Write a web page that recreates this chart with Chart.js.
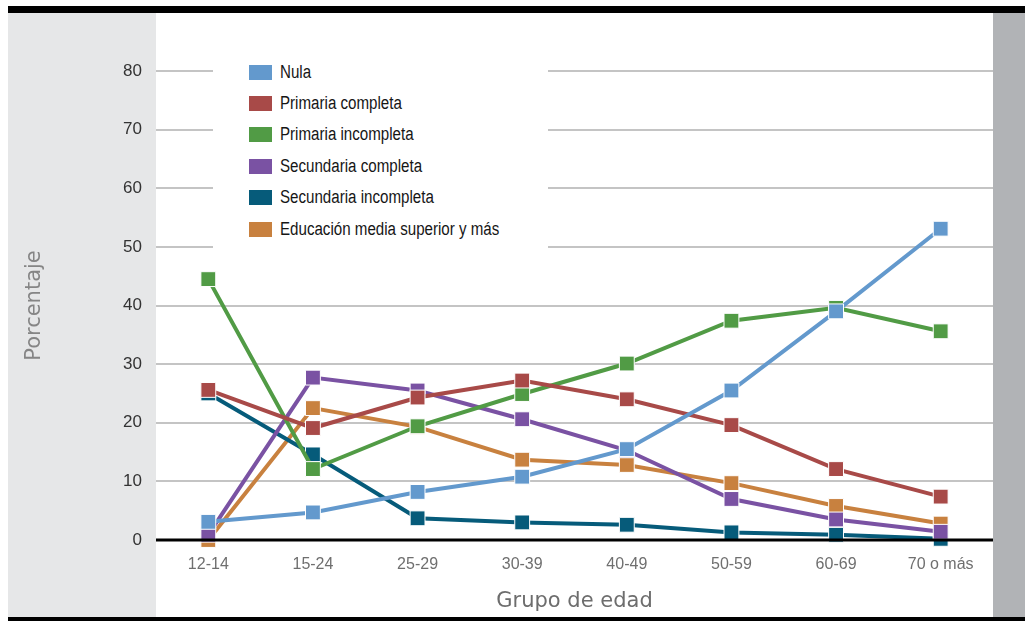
<!DOCTYPE html>
<html lang="es">
<head>
<meta charset="utf-8">
<title>Porcentaje por grupo de edad</title>
<script src="https://cdn.jsdelivr.net/npm/chart.js@4.4.0/dist/chart.umd.min.js"></script>
<style>
    html, body { margin: 0; padding: 0; background: #fff; }
    body { width: 1025px; height: 621px; position: relative; overflow: hidden; }
    .bar-top { position: absolute; left: 8px; top: 6px; width: 1017px; height: 7px; background: #000; }
    .bar-bottom { position: absolute; left: 8px; top: 617px; width: 1017px; height: 4px; background: #000; }
    .panel-left { position: absolute; left: 8px; top: 13px; width: 148px; height: 604px; background: #e6e7e8; }
    .panel-right { position: absolute; left: 993px; top: 13px; width: 32px; height: 604px; background: #b1b3b6; }
    .chart-wrap { position: absolute; left: 8px; top: 13px; width: 1017px; height: 604px; }
    #legend {
        position: absolute; left: 213px; top: 55px; width: 335px; height: 195px;
        background: #fff;
    }
    #legend .item {
        position: absolute; left: 36px; height: 20px;
        display: flex; align-items: center;
        font-family: 'Liberation Sans', Arial, sans-serif;
        font-size: 18px; color: #161616; white-space: nowrap;
    }
    #legend .swatch { width: 23px; height: 15px; margin-right: 8px; box-sizing: border-box; flex: none; }
    #legend .txt { display: inline-block; transform: scaleX(0.84); transform-origin: 0 50%; }
</style>
</head>
<body>
<div class="bar-top"></div>
<div class="panel-left"></div>
<div class="panel-right"></div>
<div class="chart-wrap"><canvas id="chart" width="1017" height="604"></canvas></div>
<div id="legend"></div>
<div class="bar-bottom"></div>

<script>
    const ageGroups = ['12-14', '15-24', '25-29', '30-39', '40-49', '50-59', '60-69', '70 o más'];
    const yTicks = [0, 10, 20, 30, 40, 50, 60, 70, 80];

    const seriesNames = [
        'Nula',
        'Primaria completa',
        'Primaria incompleta',
        'Secundaria completa',
        'Secundaria incompleta',
        'Educación media superior y más'
    ];
    const seriesColors = ['#6399cd', '#a84a48', '#519b45', '#7a52a3', '#065b7a', '#c8813f'];

    const nula = [3.1, 4.7, 8.2, 10.8, 15.5, 25.5, 39.0, 53.1];
    const primariaCompleta = [25.6, 19.1, 24.3, 27.2, 24.0, 19.6, 12.1, 7.4];
    const primariaIncompleta = [44.5, 12.1, 19.4, 24.9, 30.1, 37.4, 39.6, 35.6];
    const secundariaCompleta = [0.9, 27.7, 25.5, 20.6, 15.3, 7.0, 3.5, 1.4];
    const secundariaIncompleta = [25.0, 14.6, 3.7, 3.0, 2.6, 1.3, 0.9, 0.2];
    const mediaSuperior = [0.0, 22.5, 19.3, 13.7, 12.8, 9.7, 5.8, 2.8];

    const seriesValues = [nula, primariaCompleta, primariaIncompleta, secundariaCompleta, secundariaIncompleta, mediaSuperior];

    // legend (html, sits over the gridlines like in the original)
    const legendEl = document.getElementById('legend');
    seriesNames.forEach((name, i) => {
        const item = document.createElement('div');
        item.className = 'item';
        item.style.top = (7 + i * 31.4) + 'px';
        item.innerHTML = `<span class="swatch" style="background:${seriesColors[i]}"></span><span class="txt">${name}</span>`;
        legendEl.appendChild(item);
    });

    // black zero line drawn over the markers
    const zeroLine = {
        id: 'zeroLine',
        afterDatasetsDraw(chart) {
            const { ctx, chartArea, scales } = chart;
            const y = scales.y.getPixelForValue(0);
            ctx.save();
            ctx.strokeStyle = '#000';
            ctx.lineWidth = 3;
            ctx.beginPath();
            ctx.moveTo(chartArea.left, y);
            ctx.lineTo(chartArea.right, y);
            ctx.stroke();
            ctx.restore();
        }
    };

    Chart.defaults.font.family = "'Liberation Sans', Arial, sans-serif";

    new Chart(document.getElementById('chart').getContext('2d'), {
        type: 'line',
        data: {
            labels: ageGroups,
            datasets: seriesNames.map((name, i) => ({
                label: name,
                data: seriesValues[i],
                borderColor: seriesColors[i],
                backgroundColor: seriesColors[i],
                borderWidth: 4,
                pointStyle: 'rect',
                pointRadius: 10.5,
                pointHoverRadius: 10.5,
                pointBorderColor: '#ffffff',
                pointBorderWidth: 1,
                pointBackgroundColor: seriesColors[i],
                tension: 0,
                clip: false
            }))
        },
        options: {
            responsive: false,
            animation: false,
            devicePixelRatio: 1,
            layout: { padding: { top: 58, right: 32, bottom: 0, left: 0 } },
            plugins: {
                legend: { display: false },
                tooltip: { enabled: false }
            },
            scales: {
                x: {
                    offset: true,
                    grid: { display: false, drawTicks: false },
                    border: { display: false },
                    ticks: {
                        padding: 15,
                        color: '#6f6f6f',
                        font: { size: 16 },
                        maxRotation: 0,
                        autoSkip: false
                    },
                    title: {
                        display: true,
                        text: 'Grupo de edad',
                        color: '#6d6d6d',
                        font: { family: "'DejaVu Sans', sans-serif", size: 21 },
                        padding: { top: 0, bottom: 3 }
                    },
                    afterFit: s => { s.height = 77; }
                },
                y: {
                    min: yTicks[0],
                    max: yTicks[yTicks.length - 1],
                    afterBuildTicks: s => { s.ticks = yTicks.map(v => ({ value: v })); },
                    grid: { color: '#c4c4c4', lineWidth: 2, drawTicks: false },
                    border: { display: false },
                    ticks: {
                        padding: 14,
                        color: '#333333',
                        font: { size: 17 }
                    },
                    title: {
                        display: true,
                        text: 'Porcentaje',
                        color: '#858585',
                        font: { family: "'DejaVu Sans', sans-serif", size: 21 },
                        padding: { top: 14, bottom: 0 }
                    },
                    afterFit: s => { s.width = 148; }
                }
            }
        },
        plugins: [zeroLine]
    });
</script>
</body>
</html>
